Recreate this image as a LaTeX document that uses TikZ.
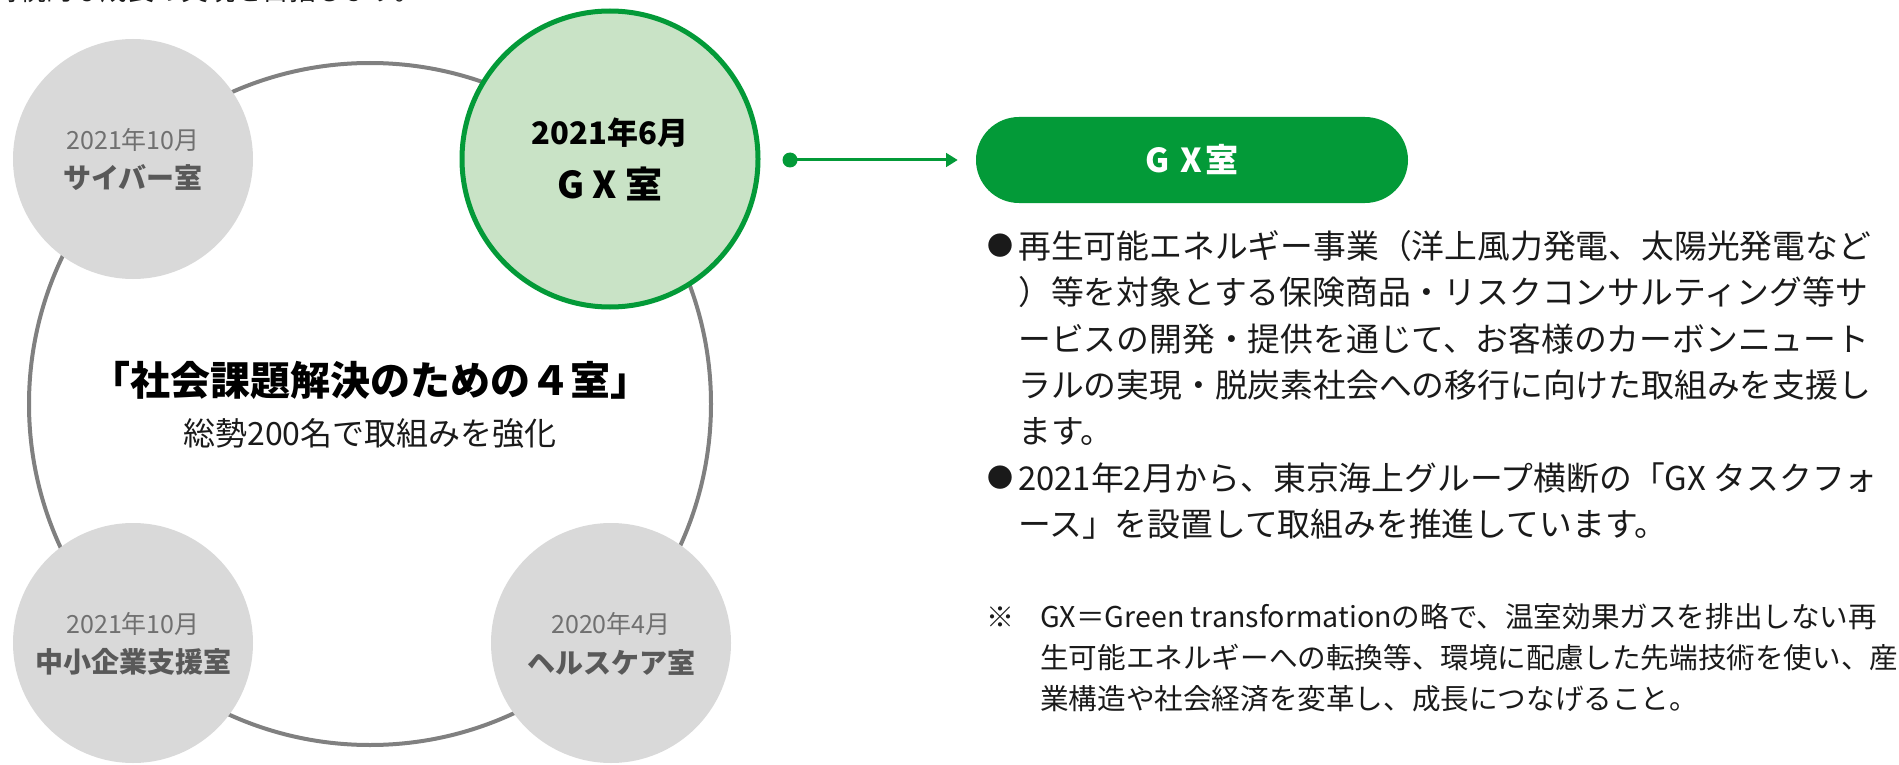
\documentclass[tikz,border=0pt]{standalone}
\usepackage{fontspec}
\setmainfont{Noto Sans CJK JP}
\usetikzlibrary{arrows.meta}
\definecolor{gxgreen}{RGB}{3,154,56}
\definecolor{gxlight}{RGB}{201,227,198}
\definecolor{roomgray}{RGB}{217,217,217}
\definecolor{ringgray}{RGB}{128,128,128}
\definecolor{yeargray}{RGB}{112,112,112}
\definecolor{namegray}{RGB}{89,89,89}
\definecolor{bodyblack}{RGB}{26,26,26}
\newcommand{\fs}[1]{\fontsize{#1pt}{#1pt}\selectfont}

\begin{document}
\begin{tikzpicture}[>=Triangle, x=1pt, y=-1pt,
        room/.style={circle, fill=roomgray, minimum size=240pt, inner sep=0pt},
        year/.style={text=yeargray, font=\fs{25}},
        roomname/.style={text=namegray, font=\fs{28}\bfseries},
        body/.style={anchor=west, inner sep=0pt, text=bodyblack, font=\fs{32.8}},
        note/.style={anchor=west, inner sep=0pt, text=bodyblack, font=\fs{28.6}}]
        \useasboundingbox (0,0) rectangle (1899,765);
        % line cut off at the top edge
        \begin{scope}
                \clip (0,0) rectangle (1899,765);
                \node[anchor=west, inner sep=0pt, text=bodyblack, font=\fs{27}] (lead) at (-8,-10) {持続的な成長の実現を目指します。};
        \end{scope}
        % ring and the four rooms
        \node[circle, draw=ringgray, line width=4pt, minimum size=682pt, inner sep=0pt] (ring) at (370,404) {};
        \foreach \cx/\cy/\yr/\nm [count=\i] in {133/159/2021年10月/サイバー室, 133/643/2021年10月/中小企業支援室, 611/643/2020年4月/ヘルスケア室}
        {
                \node[room] (room\i) at (\cx,\cy) {};
                \node[year] (yr\i) at (\cx,\cy-19) {\yr};
                \node[roomname] (nm\i) at (\cx,\cy+19) {\nm};
        }
        \node[circle, fill=gxlight, draw=gxgreen, line width=5pt, minimum size=296pt, inner sep=0pt] (gx) at (610,159) {};
        \node[font=\fs{31}\bfseries] (gxyr) at (610,133) {2021年6月};
        \node[font=\fs{37}\bfseries] (gxnm) at (610,184) {G X 室};
        \node[font=\fs{40}\bfseries] (title) at (370,380) {「社会課題解決のための４室」};
        \node[font=\fs{32}, text=bodyblack] (sub) at (370,433) {総勢200名で取組みを強化};
        % right column
        \node[circle, fill=gxgreen, minimum size=15pt, inner sep=0pt] (dot) at (790,160) {};
        \node[rectangle, rounded corners=43pt, fill=gxgreen, minimum width=432pt, minimum height=86pt, text=white, font=\fs{33}\bfseries] (head) at (1192,160) {G\hspace{0.32em}X\hspace{0.1em}室};
        \draw[->, gxgreen, line width=3pt, shorten >=18pt] (dot.center) -- (head.west);
        \node[font=\fs{26}, text=bodyblack] (b1) at (1000,246) {●};
        \node[font=\fs{26}, text=bodyblack] (b2) at (1000,478) {●};
        \foreach \t [count=\i] in {再生可能エネルギー事業（洋上風力発電、太陽光発電など, ）等を対象とする保険商品・リスクコンサルティング等サ, ービスの開発・提供を通じて、お客様のカーボンニュート, ラルの実現・脱炭素社会への移行に向けた取組みを支援し, ます。, 2021年2月から、東京海上グループ横断の「GX タスクフォ, ース」を設置して取組みを推進しています。}
        {
                \node[body] (line\i) at (1018,246+46.4*\i-46.4) {\t};
        }
        \node[font=\fs{28}, text=bodyblack] (mark) at (1000,617) {※};
        \foreach \t [count=\i] in {GX＝Green transformationの略で、温室効果ガスを排出しない再, 生可能エネルギーへの転換等、環境に配慮した先端技術を使い、産, 業構造や社会経済を変革し、成長につなげること。}
        {
                \node[note] (note\i) at (1040,617+41*\i-41) {\t};
        }
\end{tikzpicture}
\end{document}
